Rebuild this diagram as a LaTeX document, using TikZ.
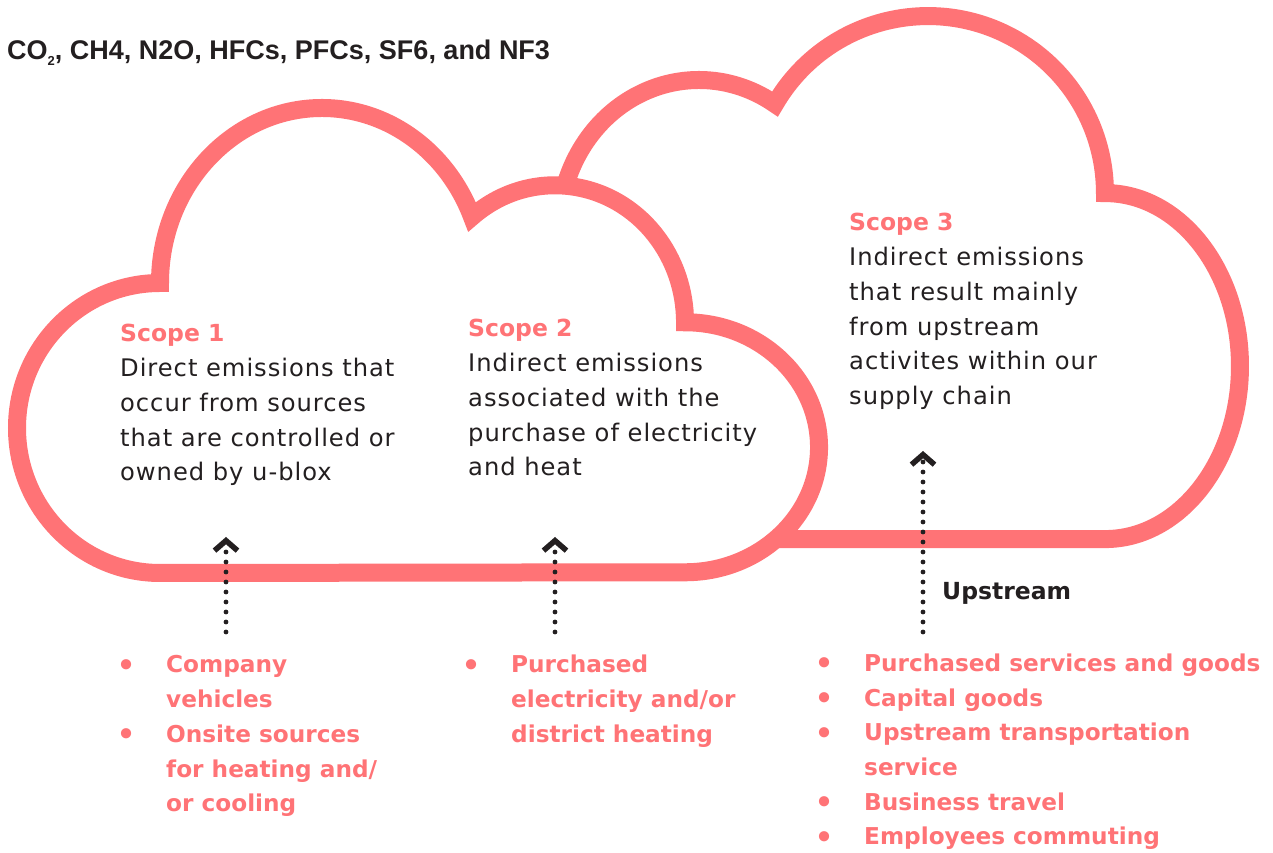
\documentclass[tikz,border=0pt]{standalone}
\usepackage{fontspec}
\usepackage{graphicx}
\setmainfont{DejaVu Sans}
\newfontfamily\bodyfont{DejaVu Sans}[LetterSpace=4]
\newfontfamily\titlefont{Liberation Sans}
\usetikzlibrary{arrows.meta}
\definecolor{cloudpink}{HTML}{FF7376}
\definecolor{ink}{HTML}{231F20}
\newcommand\bul{\makebox[14pt][c]{\raisebox{-2.5pt}{\smash{\scalebox{1.25}{•}}}}\hspace*{33pt}}
\newcommand\ind{\hspace*{47pt}}
\begin{document}
\begin{tikzpicture}[x=1pt,y=1pt,
  cloud/.style={draw=cloudpink,line width=18pt,fill=white,line join=miter,miter limit=4},
  dotarrow/.style={draw=ink,line width=4.8pt,line cap=round,dash pattern=on 0pt off 10pt,
    -{Straight Barb[length=10pt,width=23pt,line width=5.5pt,sharp]}},
  blocktext/.style={anchor=base west,inner sep=0pt,align=left,
    font=\bodyfont\fontsize{24.2}{34.7}\selectfont,text=ink},
  listtext/.style={anchor=base west,inner sep=0pt,align=left,
    font=\fontsize{23.2}{34.7}\selectfont\bfseries,text=cloudpink},
  labeltext/.style={anchor=base west,inner sep=0pt,text=ink},
]
\path[use as bounding box] (0,0) rectangle (1273,853);

% back cloud (scope 3)
\path[cloud] (567.4,571.7)
  arc[start angle=200,end angle=57.1,x radius=140pt,y radius=150pt]
  arc[start angle=149.8,end angle=0,radius=177pt]
  arc[start angle=90,end angle=-90,x radius=135pt,y radius=173pt]
  -- (720,314) -- cycle;

% front cloud (scope 1 and 2)
\path[cloud] (160,280)
  arc[start angle=270,end angle=90,x radius=143pt,y radius=145pt]
  arc[start angle=180,end angle=22.2,x radius=162pt,y radius=175pt]
  arc[start angle=129.7,end angle=0,x radius=130pt,y radius=137pt]
  arc[start angle=90,end angle=-90,x radius=134pt,y radius=125pt]
  -- cycle;

% title
\node[labeltext,font=\titlefont\bfseries\fontsize{27}{32}\selectfont] (title) at (7,793)
  {CO\raisebox{-6pt}{\fontsize{13}{13}\selectfont 2}, CH4, N2O, HFCs, PFCs, SF6, and NF3};

% scope texts (anchored at the baseline of the last line)
\node[blocktext] (s1) at (120,372.2)
  {{\rmfamily\bfseries\fontsize{23.5}{34.7}\selectfont\color{cloudpink}Scope 1}\\Direct emissions that\\occur from sources\\that are controlled or\\owned by u-blox};
\node[blocktext] (s2) at (468,377.2)
  {{\rmfamily\bfseries\fontsize{23.5}{34.7}\selectfont\color{cloudpink}Scope 2}\\Indirect emissions\\associated with the\\purchase of electricity\\and heat};
\node[blocktext] (s3) at (849,448.5)
  {{\rmfamily\bfseries\fontsize{23.5}{34.7}\selectfont\color{cloudpink}Scope 3}\\Indirect emissions\\that result mainly\\from upstream\\activites within our\\supply chain};

% arrows
\coordinate (a1b) at (226,221); \coordinate (a1t) at (226,316);
\coordinate (a2b) at (555,221); \coordinate (a2t) at (555,316);
\coordinate (a3b) at (923,221); \coordinate (a3t) at (923,402);
\draw[dotarrow] (a1b) -- (a1t);
\draw[dotarrow] (a2b) -- (a2t);
\draw[dotarrow] (a3b) -- (a3t);

\node[labeltext,font=\bfseries\fontsize{23.5}{28}\selectfont] (up) at (942,253) {Upstream};

% lists (anchored at the baseline of the last line)
\node[listtext] (l1) at (119,41.2)
  {\bul Company\\\ind vehicles\\\bul Onsite sources\\\ind for heating and/\\\ind or cooling};
\node[listtext] (l2) at (464,110.6)
  {\bul Purchased\\\ind electricity and/or\\\ind district heating};
\node[listtext] (l3) at (817,8)
  {\bul Purchased services and goods\\\bul Capital goods\\\bul Upstream transportation\\\ind service\\\bul Business travel\\\bul Employees commuting};
\end{tikzpicture}
\end{document}
